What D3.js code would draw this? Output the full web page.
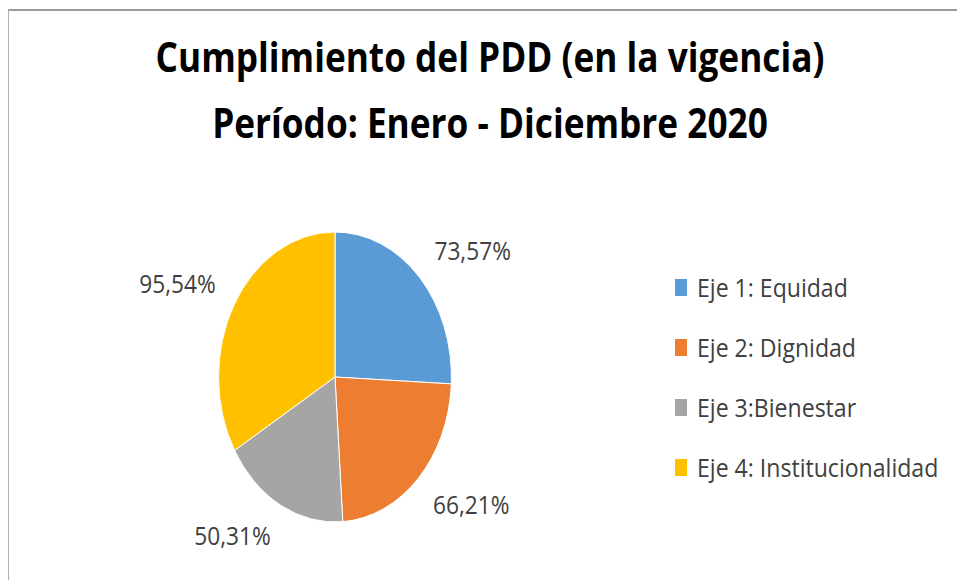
<!DOCTYPE html>
<html>
<head>
<meta charset="utf-8">
<script src="https://cdn.jsdelivr.net/npm/d3@7"></script>
<style>
  body { margin: 0; background: #fff; }
  svg { display: block; }
</style>
</head>
<body>
<svg id="pie-chart" width="957" height="580"></svg>
<script>
// data
var titleLines = ["Cumplimiento del PDD (en la vigencia)", "Período: Enero - Diciembre 2020"];
var categories = ["Eje 1: Equidad", "Eje 2: Dignidad", "Eje 3:Bienestar", "Eje 4: Institucionalidad"];
var values = [73.57, 66.21, 50.31, 95.54];
var colors = ["#5B9BD5", "#ED7D31", "#A5A5A5", "#FFC000"];

var svg = d3.select("#pie-chart");
var squish = 0.803; // the reference picture is squeezed sideways
var font = "'Open Sans', Lato, sans-serif";

var locale = d3.formatLocale({decimal: ",", thousands: ".", grouping: [3], currency: ["$", ""]});
var fmt = locale.format(".2f");

// widen text a bit, Open Sans runs narrower than the original font
function stretch(sel, k) {
  sel.each(function() {
    var w = this.getComputedTextLength();
    d3.select(this)
        .attr("textLength", w * k)
        .attr("lengthAdjust", "spacingAndGlyphs");
  });
}

// frame
svg.append("line").attr("x1", 8).attr("x2", 957).attr("y1", 10).attr("y2", 10)
    .style("stroke", "#9a9a9a").style("stroke-width", 2);
svg.append("line").attr("x1", 8.5).attr("x2", 8.5).attr("y1", 10).attr("y2", 580)
    .style("stroke", "#b0b0b0").style("stroke-width", 1);

var g = svg.append("g").attr("transform", "scale(" + squish + ",1)");

// title
var titles = g.selectAll("text.title").data(titleLines).enter().append("text")
    .attr("class", "title")
    .attr("x", 490 / squish)
    .attr("y", function(d, i) { return 72 + i * 66; })
    .attr("text-anchor", "middle")
    .style("font-family", font)
    .style("font-weight", "bold")
    .style("font-size", "41px")
    .style("fill", "#000")
    .text(function(d) { return d; });
stretch(titles, 1.07);

// pie
var cx = 335 / squish, cy = 377, r = 145;
var data = categories.map(function(c, i) { return {name: c, value: values[i], color: colors[i]}; });
var pie = d3.pie().sort(null).value(function(d) { return d.value; });
var arc = d3.arc().innerRadius(0).outerRadius(r);
var arcs = pie(data);

var pg = g.append("g").attr("transform", "translate(" + cx + "," + cy + ")");
pg.selectAll("path").data(arcs).enter().append("path")
    .attr("d", arc)
    .style("fill", function(d) { return d.data.color; })
    .style("stroke", "#fff")
    .style("stroke-width", 1)
    .attr("vector-effect", "non-scaling-stroke");

// labels outside the slices
var labelK = 1.13;
var labels = pg.selectAll("text.lbl").data(arcs).enter().append("text")
    .attr("class", "lbl")
    .attr("text-anchor", "middle")
    .style("font-family", font)
    .style("font-size", "25px")
    .style("fill", "#404040")
    .text(function(d) { return fmt(d.data.value) + "%"; });

labels.each(function(d) {
  var a = (d.startAngle + d.endAngle) / 2;
  var s = Math.sin(a), c = Math.cos(a);
  var w = this.getComputedTextLength() * labelK;
  var h = 18;
  var x = s * r * 1.18 + (s >= 0 ? w / 2 : -w / 2);
  var y = -c * r * 1.17 - (c >= 0 ? h / 2 : -h / 2);
  d3.select(this)
      .attr("x", x)
      .attr("y", y + h / 2);
});
stretch(labels, labelK);

// legend
var legend = g.append("g").attr("transform", "translate(" + (675 / squish) + ",0)");
var rows = legend.selectAll("g").data(data).enter().append("g")
    .attr("transform", function(d, i) { return "translate(0," + (297 + i * 60) + ")"; });
rows.append("rect")
    .attr("x", 0).attr("y", -18)
    .attr("width", 12 / squish).attr("height", 17)
    .style("fill", function(d) { return d.color; });
var legendText = rows.append("text")
    .attr("x", 22 / squish)
    .attr("y", 0)
    .style("font-family", font)
    .style("font-size", "25px")
    .style("fill", "#404040")
    .text(function(d) { return d.name; });
stretch(legendText, 1.15);
</script>
</body>
</html>
